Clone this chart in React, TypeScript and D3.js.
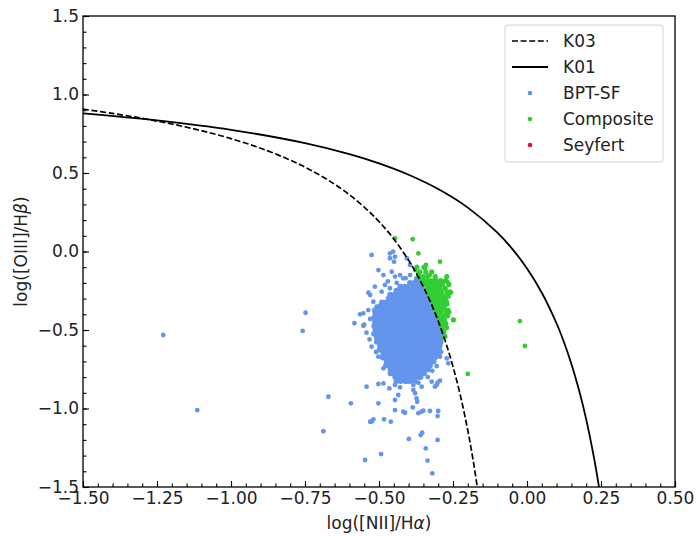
import React, { useEffect, useRef } from 'react';
import * as d3 from 'd3';

// demarcation curves, values
const k03X = [-1.5, -1.4, -1.3, -1.2, -1.1, -1.0, -0.9, -0.8, -0.75, -0.7, -0.65, -0.6, -0.55, -0.5, -0.45, -0.4, -0.375, -0.35, -0.325, -0.3, -0.275, -0.25, -0.225, -0.2, -0.18, -0.16];
const k03Y = [0.9065, 0.8793, 0.8481, 0.812, 0.7696, 0.719, 0.6579, 0.5824, 0.5375, 0.4867, 0.4286, 0.3615, 0.2833, 0.1909, 0.08, -0.0556, -0.1353, -0.225, -0.3267, -0.4429, -0.5769, -0.7333, -0.9182, -1.14, -1.3522, -1.6048];
const k01X = [-1.5, -1.25, -1.0, -0.75, -0.6, -0.5, -0.4, -0.3, -0.2, -0.1, -0.05, 0.0, 0.05, 0.1, 0.125, 0.15, 0.175, 0.2, 0.225, 0.2375, 0.25];
const k01Y = [0.8804, 0.8353, 0.775, 0.69, 0.6199, 0.5611, 0.4889, 0.3978, 0.2796, 0.1198, 0.0169, -0.1079, -0.2624, -0.4586, -0.5781, -0.7163, -0.8778, -1.0693, -1.2998, -1.4337, -1.5827];

// dense part of the star-forming cloud: first value of each row is log([OIII]/Hb), the rest log([NII]/Ha)
const sfCoreRows = [
  [-0.175, -0.372, -0.366],
  [-0.2, -0.395, -0.381, -0.367],
  [-0.225, -0.428, -0.414, -0.399, -0.385, -0.37, -0.357],
  [-0.25, -0.441, -0.427, -0.412, -0.397, -0.383, -0.368, -0.354],
  [-0.275, -0.462, -0.447, -0.432, -0.418, -0.403, -0.388, -0.373, -0.358, -0.344],
  [-0.3, -0.467, -0.452, -0.438, -0.423, -0.408, -0.393, -0.379, -0.364, -0.349, -0.336],
  [-0.325, -0.49, -0.476, -0.461, -0.446, -0.432, -0.417, -0.402, -0.387, -0.372, -0.358, -0.343, -0.329],
  [-0.35, -0.497, -0.482, -0.467, -0.452, -0.437, -0.422, -0.408, -0.393, -0.378, -0.363, -0.349, -0.334, -0.321],
  [-0.375, -0.514, -0.5, -0.485, -0.47, -0.455, -0.44, -0.426, -0.411, -0.396, -0.381, -0.367, -0.352, -0.337, -0.322, -0.316],
  [-0.4, -0.512, -0.498, -0.483, -0.468, -0.453, -0.439, -0.424, -0.409, -0.394, -0.38, -0.365, -0.35, -0.335, -0.321, -0.311],
  [-0.425, -0.517, -0.502, -0.487, -0.472, -0.458, -0.443, -0.428, -0.413, -0.399, -0.384, -0.369, -0.354, -0.34, -0.325, -0.31, -0.305],
  [-0.45, -0.513, -0.499, -0.484, -0.469, -0.454, -0.44, -0.425, -0.41, -0.395, -0.381, -0.366, -0.351, -0.336, -0.322, -0.307, -0.3],
  [-0.475, -0.516, -0.501, -0.487, -0.472, -0.457, -0.442, -0.428, -0.413, -0.398, -0.383, -0.369, -0.354, -0.339, -0.324, -0.31, -0.297],
  [-0.5, -0.512, -0.497, -0.482, -0.468, -0.453, -0.438, -0.423, -0.409, -0.394, -0.379, -0.364, -0.35, -0.335, -0.32, -0.305, -0.292],
  [-0.525, -0.513, -0.498, -0.484, -0.469, -0.454, -0.439, -0.425, -0.41, -0.395, -0.38, -0.366, -0.351, -0.336, -0.321, -0.307, -0.292],
  [-0.55, -0.507, -0.492, -0.478, -0.463, -0.448, -0.433, -0.419, -0.404, -0.389, -0.374, -0.36, -0.345, -0.33, -0.315, -0.3, -0.29],
  [-0.575, -0.507, -0.492, -0.478, -0.463, -0.448, -0.433, -0.419, -0.404, -0.389, -0.374, -0.36, -0.345, -0.33, -0.315, -0.301, -0.292],
  [-0.6, -0.496, -0.481, -0.466, -0.451, -0.437, -0.422, -0.407, -0.392, -0.378, -0.363, -0.348, -0.333, -0.319, -0.304, -0.295],
  [-0.625, -0.497, -0.482, -0.467, -0.453, -0.438, -0.423, -0.408, -0.394, -0.379, -0.364, -0.349, -0.335, -0.32, -0.305, -0.298],
  [-0.65, -0.485, -0.47, -0.455, -0.44, -0.426, -0.411, -0.396, -0.381, -0.367, -0.352, -0.337, -0.322, -0.308, -0.3],
  [-0.675, -0.487, -0.472, -0.457, -0.443, -0.428, -0.413, -0.398, -0.384, -0.369, -0.354, -0.339, -0.325, -0.311],
  [-0.7, -0.474, -0.459, -0.444, -0.43, -0.415, -0.4, -0.385, -0.371, -0.356, -0.341, -0.326, -0.316],
  [-0.725, -0.476, -0.461, -0.446, -0.432, -0.417, -0.402, -0.387, -0.373, -0.358, -0.343, -0.328],
  [-0.75, -0.461, -0.446, -0.431, -0.417, -0.402, -0.387, -0.372, -0.358, -0.343, -0.334],
  [-0.775, -0.461, -0.446, -0.431, -0.417, -0.402, -0.387, -0.372, -0.358, -0.348],
  [-0.8, -0.445, -0.43, -0.415, -0.401, -0.386, -0.371, -0.36],
  [-0.825, -0.441, -0.426, -0.411, -0.396, -0.381],
];

// scattered star-forming points [x, y]
const sfScatter: [number, number][] = [
  [-0.525, -0.022], [-0.463, -0.012], [-0.452, -0.001], [-0.463, -0.043], [-0.446, -0.033], [-0.449, -0.065], [-0.406, -0.043], [-0.395, -0.086],
  [-0.502, -0.118], [-0.485, -0.15], [-0.457, -0.129], [-0.446, -0.16], [-0.429, -0.15], [-0.418, -0.171], [-0.395, -0.15], [-0.41, -0.17],
  [-0.514, -0.224], [-0.491, -0.256], [-0.53, -0.277], [-0.48, -0.213], [-0.463, -0.234], [-0.44, -0.2], [-0.47, -0.19],
  [-0.519, -0.32], [-0.508, -0.352], [-0.536, -0.373], [-0.553, -0.394], [-0.536, -0.262],
  [-0.564, -0.4], [-0.583, -0.457], [-0.55, -0.466], [-0.553, -0.473], [-0.542, -0.517], [-0.519, -0.525], [-0.53, -0.43], [-0.532, -0.56],
  [-0.525, -0.606], [-0.502, -0.67], [-0.485, -0.744], [-0.51, -0.64],
  [-0.294, -0.67], [-0.271, -0.681], [-0.266, -0.712], [-0.305, -0.606], [-0.29, -0.64], [-0.305, -0.73], [-0.32, -0.76],
  [-0.322, -0.829], [-0.311, -0.861], [-0.294, -0.823], [-0.335, -0.8],
  [-0.542, -0.861], [-0.502, -0.844], [-0.485, -0.84], [-0.465, -0.872], [-0.446, -0.85], [-0.429, -0.865], [-0.435, -0.914], [-0.446, -0.946],
  [-0.406, -0.829], [-0.384, -0.85], [-0.367, -0.836], [-0.356, -0.861], [-0.384, -0.882], [-0.378, -0.903], [-0.373, -0.935], [-0.371, -0.957],
  [-0.305, -0.85], [-0.302, -0.836],
  [-1.229, -0.532], [-1.114, -1.01], [-0.748, -0.39], [-0.758, -0.506], [-0.671, -0.925], [-0.595, -0.967], [-0.688, -1.145], [-0.53, -1.084],
  [-0.502, -0.967], [-0.446, -1.01], [-0.418, -1.02], [-0.412, -1.027], [-0.386, -0.993], [-0.367, -1.03], [-0.356, -1.02], [-0.35, -1.014],
  [-0.328, -1.016], [-0.3, -1.016], [-0.302, -1.048], [-0.525, -1.084], [-0.519, -1.069], [-0.483, -1.069], [-0.46, -1.084], [-0.399, -1.194],
  [-0.359, -1.169], [-0.354, -1.154], [-0.302, -1.2], [-0.342, -1.254], [-0.493, -1.29], [-0.547, -1.328], [-0.336, -1.332], [-0.32, -1.413],
];

// composite band, same row layout as sfCoreRows
const compRows = [
  [-0.1, -0.372, -0.348],
  [-0.13, -0.362, -0.342, -0.322],
  [-0.16, -0.366, -0.351, -0.336, -0.31, -0.271],
  [-0.185, -0.352, -0.337, -0.322, -0.307, -0.292, -0.276],
  [-0.21, -0.346, -0.331, -0.316, -0.301, -0.286, -0.264],
  [-0.235, -0.338, -0.323, -0.308, -0.293, -0.276],
  [-0.26, -0.333, -0.318, -0.303, -0.288, -0.27, -0.258],
  [-0.285, -0.326, -0.311, -0.296, -0.281, -0.266],
  [-0.31, -0.321, -0.306, -0.291, -0.276],
  [-0.335, -0.315, -0.3, -0.285, -0.27],
  [-0.36, -0.31, -0.295, -0.28],
  [-0.385, -0.305, -0.29, -0.273, -0.264],
  [-0.41, -0.3, -0.285, -0.268],
  [-0.435, -0.294, -0.279, -0.249],
  [-0.46, -0.289, -0.274],
  [-0.485, -0.285, -0.272],
  [-0.51, -0.281],
  [-0.54, -0.277],
];

const compScatter: [number, number][] = [
  [-0.446, 0.084], [-0.386, 0.078], [-0.367, -0.012], [-0.294, -0.065], [-0.341, -0.086], [-0.345, -0.107], [-0.378, -0.118],
  [-0.367, -0.139], [-0.328, -0.15], [-0.305, -0.192], [-0.269, -0.192], [-0.26, -0.256], [-0.283, -0.288], [-0.271, -0.32],
  [-0.266, -0.373], [-0.249, -0.436], [-0.283, -0.415], [-0.28, -0.543],
  [-0.024, -0.443], [-0.007, -0.602], [-0.2, -0.78],
];

const seyfertPts: [number, number][] = [];

const xTicks = [-1.5, -1.25, -1.0, -0.75, -0.5, -0.25, 0.0, 0.25, 0.5];
const xTickLabels = ['\u22121.50', '\u22121.25', '\u22121.00', '\u22120.75', '\u22120.50', '\u22120.25', '0.00', '0.25', '0.50'];
const yTicks = [-1.5, -1.0, -0.5, 0.0, 0.5, 1.0, 1.5];
const yTickLabels = ['\u22121.5', '\u22121.0', '\u22120.5', '0.0', '0.5', '1.0', '1.5'];

const legendItems = [
  { label: 'K03', kind: 'dash', color: '#000' },
  { label: 'K01', kind: 'line', color: '#000' },
  { label: 'BPT-SF', kind: 'dot', color: 'cornflowerblue' },
  { label: 'Composite', kind: 'dot', color: 'limegreen' },
  { label: 'Seyfert', kind: 'dot', color: 'crimson' },
];

function rowsToPoints(rows: number[][]): [number, number][] {
  const out: [number, number][] = [];
  rows.forEach((r) => {
    for (let i = 1; i < r.length; i++) out.push([r[i], r[0]]);
  });
  return out;
}

const W = 697;
const H = 536;
const m = { left: 83, right: 22, top: 16, bottom: 49 };
const FONT = '"DejaVu Sans", sans-serif';

export default function App() {
  const xAxisRef = useRef<SVGGElement>(null);
  const yAxisRef = useRef<SVGGElement>(null);

  const x = d3.scaleLinear().domain([-1.5, 0.5]).range([m.left, W - m.right]);
  const y = d3.scaleLinear().domain([-1.5, 1.5]).range([H - m.bottom, m.top]);

  const curve = d3.line<[number, number]>()
    .x((d) => x(d[0]))
    .y((d) => y(d[1]))
    .curve(d3.curveCatmullRom);
  const k03Path = curve(k03X.map((v, i) => [v, k03Y[i]] as [number, number]));
  const k01Path = curve(k01X.map((v, i) => [v, k01Y[i]] as [number, number]));

  const sfCore = rowsToPoints(sfCoreRows);
  const compCore = rowsToPoints(compRows);

  useEffect(() => {
    const gx = d3.select(xAxisRef.current!);
    gx.selectAll('*').remove();
    const minorX = d3.range(-1.5, 0.5001, 0.05);
    gx.append('g').call(
      d3.axisBottom(x).tickValues(minorX).tickSize(-3.5).tickSizeOuter(0).tickFormat(() => '')
    );
    gx.append('g').call(
      d3.axisBottom(x).tickValues(xTicks).tickSize(-6).tickSizeOuter(0).tickPadding(5)
        .tickFormat((d, i) => xTickLabels[i])
    );
    gx.selectAll('.domain').remove();
    gx.selectAll('line').attr('stroke', '#000').attr('stroke-width', 1.1);
    gx.selectAll('text').attr('font-size', 17).attr('font-family', FONT).attr('fill', '#222');

    const gy = d3.select(yAxisRef.current!);
    gy.selectAll('*').remove();
    const minorY = d3.range(-1.5, 1.5001, 0.1);
    gy.append('g').call(
      d3.axisLeft(y).tickValues(minorY).tickSize(-3.5).tickSizeOuter(0).tickFormat(() => '')
    );
    gy.append('g').call(
      d3.axisLeft(y).tickValues(yTicks).tickSize(-6).tickSizeOuter(0).tickPadding(4)
        .tickFormat((d, i) => yTickLabels[i])
    );
    gy.selectAll('.domain').remove();
    gy.selectAll('line').attr('stroke', '#000').attr('stroke-width', 1.1);
    gy.selectAll('text').attr('font-size', 17).attr('font-family', FONT).attr('fill', '#222');
  }, []);

  const lx = 505;
  const ly = 25;

  return (
    <svg width={W} height={H} style={{ position: 'absolute', left: 0, top: 0, background: '#fff' }}>
      <defs>
        <clipPath id="plot">
          <rect x={m.left} y={m.top} width={W - m.left - m.right} height={H - m.top - m.bottom} />
        </clipPath>
      </defs>
      <rect width={W} height={H} fill="#fff" />
      <g clipPath="url(#plot)">
        {sfCore.map((p, i) => (
          <circle key={'sc' + i} cx={x(p[0])} cy={y(p[1])} r={3} fill="cornflowerblue" />
        ))}
        {sfScatter.map((p, i) => (
          <circle key={'ss' + i} cx={x(p[0])} cy={y(p[1])} r={2.4} fill="cornflowerblue" />
        ))}
        {compCore.map((p, i) => (
          <circle key={'cc' + i} cx={x(p[0])} cy={y(p[1])} r={2.6} fill="limegreen" />
        ))}
        {compScatter.map((p, i) => (
          <circle key={'cs' + i} cx={x(p[0])} cy={y(p[1])} r={2.4} fill="limegreen" />
        ))}
        {seyfertPts.map((p, i) => (
          <circle key={'y' + i} cx={x(p[0])} cy={y(p[1])} r={2.4} fill="crimson" />
        ))}
        <path d={k03Path || ''} fill="none" stroke="#000" strokeWidth={1.7} strokeDasharray="6,2.6" />
        <path d={k01Path || ''} fill="none" stroke="#000" strokeWidth={1.8} />
      </g>
      <g ref={xAxisRef} transform={`translate(0,${H - m.bottom})`} />
      <g ref={yAxisRef} transform={`translate(${m.left},0)`} />
      <rect x={m.left} y={m.top} width={W - m.left - m.right} height={H - m.top - m.bottom} fill="none" stroke="#000" strokeWidth={1.3} />

      <g fontFamily={FONT} fontSize={17} fill="#222">
        <text x={(m.left + W - m.right) / 2} y={529} textAnchor="middle">
          log([NII]/H<tspan fontStyle="italic">α</tspan>)
        </text>
        <text transform={`translate(27,${(m.top + H - m.bottom) / 2}) rotate(-90)`} textAnchor="middle">
          log([OIII]/H<tspan fontStyle="italic">β</tspan>)
        </text>
      </g>

      <g>
        <rect x={lx} y={ly} width={158} height={137} rx={3} fill="#fff" fillOpacity={0.8} stroke="#d0d0d0" strokeWidth={1} />
        {legendItems.map((it, i) => {
          const cy = 41 + i * 26;
          return (
            <g key={it.label}>
              {it.kind === 'dash' && (
                <line x1={512} x2={548} y1={cy} y2={cy} stroke={it.color} strokeWidth={1.7} strokeDasharray="6,2.6" />
              )}
              {it.kind === 'line' && (
                <line x1={512} x2={548} y1={cy} y2={cy} stroke={it.color} strokeWidth={1.8} />
              )}
              {it.kind === 'dot' && <circle cx={530} cy={cy} r={2.3} fill={it.color} />}
              <text x={563} y={cy} dy="0.36em" fontFamily={FONT} fontSize={17} fill="#222">
                {it.label}
              </text>
            </g>
          );
        })}
      </g>
    </svg>
  );
}
